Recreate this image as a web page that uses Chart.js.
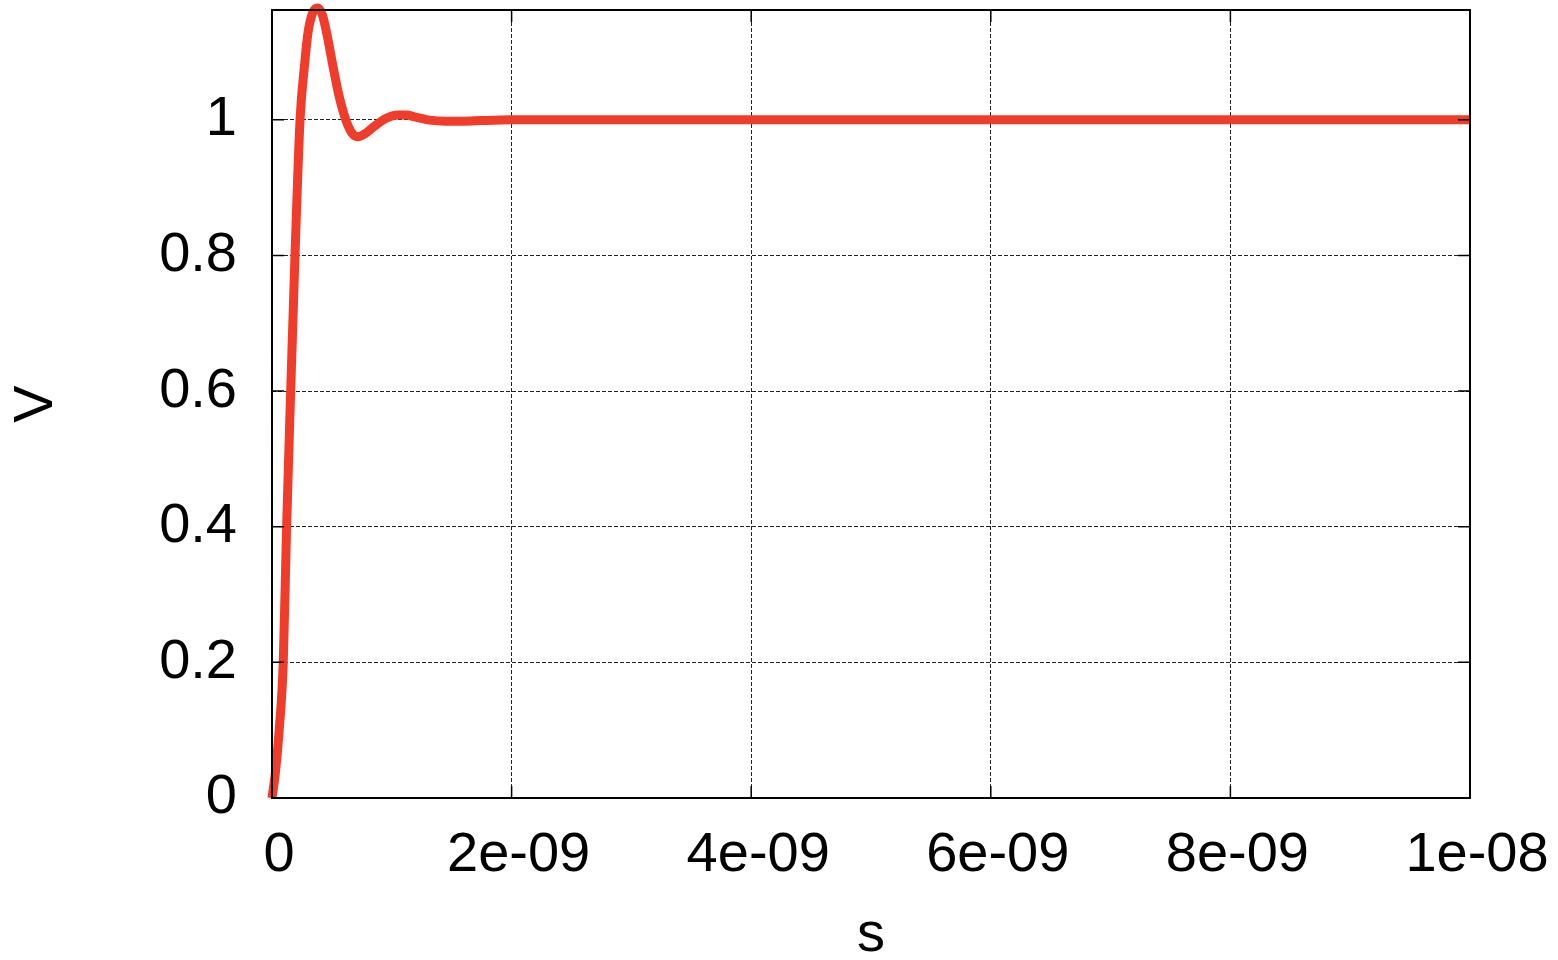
<!DOCTYPE html>
<html>
<head>
<meta charset="utf-8">
<script src="https://cdn.jsdelivr.net/npm/chart.js@4.4.1/dist/chart.umd.min.js"></script>
<style>
  html, body { margin: 0; padding: 0; background: #fff; }
  canvas { display: block; }
</style>
</head>
<body>
<canvas id="stepChart" width="1558" height="960"></canvas>
<script>
// time (s) and voltage (V)
const times = [
  0, 0.03e-9, 0.06e-9, 0.094e-9, 0.122e-9, 0.156e-9, 0.192e-9, 0.234e-9,
  0.27e-9, 0.30e-9, 0.34e-9, 0.38e-9, 0.42e-9, 0.46e-9, 0.51e-9, 0.56e-9,
  0.62e-9, 0.67e-9, 0.72e-9, 0.78e-9, 0.85e-9, 0.95e-9, 1.05e-9, 1.12e-9,
  1.2e-9, 1.3e-9, 1.45e-9, 1.6e-9, 1.75e-9, 2e-9, 4e-9, 6e-9, 8e-9, 1e-8
];
const volts = [
  0, 0.04, 0.1, 0.2, 0.4, 0.6, 0.8, 1.0,
  1.078, 1.128, 1.158, 1.165, 1.155, 1.125, 1.078, 1.035,
  0.998, 0.98, 0.975, 0.98, 0.99, 1.002, 1.007, 1.007,
  1.004, 1.0, 0.998, 0.998, 0.999, 1.0, 1.0, 1.0, 1.0, 1.0
];

const xTicks = [0, 2e-9, 4e-9, 6e-9, 8e-9, 1e-8];
const xTickLabels = ["0", "2e-09", "4e-09", "6e-09", "8e-09", "1e-08"];
const yTicks = [0, 0.2, 0.4, 0.6, 0.8, 1];
const yTickLabels = ["0", "0.2", "0.4", "0.6", "0.8", "1"];

const FONT = "'Liberation Sans', Arial, sans-serif";

// gnuplot style frame with inward ticks on all four sides
const framePlugin = {
  id: "frame",
  afterDraw(chart) {
    const { ctx, chartArea: a, scales } = chart;
    const len = 12;
    ctx.save();
    ctx.strokeStyle = "#000";
    ctx.lineWidth = 1.5;
    ctx.beginPath();
    xTicks.forEach(v => {
      const px = scales.x.getPixelForValue(v);
      ctx.moveTo(px, a.bottom); ctx.lineTo(px, a.bottom - len);
      ctx.moveTo(px, a.top); ctx.lineTo(px, a.top + len);
    });
    yTicks.forEach(v => {
      const py = scales.y.getPixelForValue(v);
      ctx.moveTo(a.left, py); ctx.lineTo(a.left + len, py);
      ctx.moveTo(a.right, py); ctx.lineTo(a.right - len, py);
    });
    ctx.stroke();
    ctx.lineWidth = 2;
    ctx.strokeRect(a.left, a.top, a.right - a.left, a.bottom - a.top);
    ctx.restore();
  }
};

new Chart(document.getElementById("stepChart"), {
  type: "line",
  data: {
    datasets: [{
      data: times.map((t, i) => ({ x: t, y: volts[i] })),
      borderColor: "#f03c2a",
      borderWidth: 9,
      pointRadius: 0,
      cubicInterpolationMode: "monotone",
      fill: false,
      clip: 10
    }]
  },
  options: {
    responsive: false,
    animation: false,
    layout: { padding: { top: 10, right: 88, left: 0, bottom: 0 } },
    plugins: { legend: { display: false }, tooltip: { enabled: false } },
    scales: {
      x: {
        type: "linear",
        min: 0,
        max: 1e-8,
        afterBuildTicks: s => { s.ticks = xTicks.map(v => ({ value: v })); },
        afterFit: s => { s.height = 162; s.paddingLeft = 0; s.paddingRight = 0; },
        border: { display: false, dash: [4, 2] },
        grid: { color: "#222", lineWidth: 1, drawTicks: false },
        ticks: {
          padding: 24,
          labelOffset: 7,
          color: "#000",
          maxRotation: 0,
          font: { family: FONT, size: 56 },
          callback: (v, i) => xTickLabels[i]
        },
        title: {
          display: true,
          text: "s",
          color: "#000",
          font: { family: FONT, size: 56, lineHeight: 1 },
          padding: { top: 0, bottom: -4 }
        }
      },
      y: {
        min: 0,
        max: 1.162,
        afterBuildTicks: s => { s.ticks = yTicks.map(v => ({ value: v })); },
        afterFit: s => { s.width = 272; s.paddingTop = 0; s.paddingBottom = 0; },
        border: { display: false, dash: [4, 2] },
        grid: { color: "#222", lineWidth: 1, drawTicks: false },
        ticks: {
          padding: 35,
          color: "#000",
          font: { family: FONT, size: 56 },
          callback: (v, i) => yTickLabels[i]
        },
        title: {
          display: true,
          text: "V",
          color: "#000",
          font: { family: FONT, size: 56, lineHeight: 1 },
          padding: { top: 9, bottom: 0 }
        }
      }
    }
  },
  plugins: [framePlugin]
});
</script>
</body>
</html>
